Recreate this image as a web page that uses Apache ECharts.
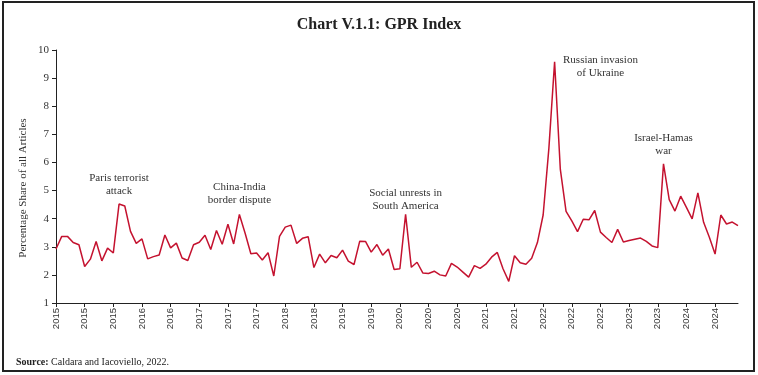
<!DOCTYPE html>
<html>
<head>
<meta charset="utf-8">
<script src="https://cdn.jsdelivr.net/npm/echarts@6/dist/echarts.min.js"></script>
<style>
  html, body { margin: 0; padding: 0; background: #fff; }
  #chart { width: 758px; height: 375px; }
</style>
</head>
<body>
<div id="chart"></div>
<script>
// monthly, Jan 2015 - Dec 2024
const startYear = 2015;
const gprValues = [
  2.92, 3.37, 3.37, 3.15, 3.07, 2.30, 2.56, 3.19, 2.50, 2.95, 2.78, 4.52,
  4.45, 3.55, 3.12, 3.28, 2.57, 2.65, 2.71, 3.42, 2.96, 3.13, 2.60, 2.51,
  3.07, 3.16, 3.41, 2.90, 3.58, 3.09, 3.80, 3.10, 4.15, 3.48, 2.75, 2.78,
  2.53, 2.79, 1.96, 3.37, 3.70, 3.77, 3.12, 3.30, 3.36, 2.26, 2.74, 2.43,
  2.69, 2.61, 2.88, 2.49, 2.37, 3.20, 3.19, 2.81, 3.08, 2.70, 2.92, 2.19,
  2.22, 4.15, 2.27, 2.45, 2.07, 2.05, 2.13, 2.00, 1.96, 2.41, 2.28, 2.10,
  1.92, 2.33, 2.23, 2.38, 2.63, 2.80, 2.22, 1.77, 2.68, 2.43, 2.38, 2.59,
  3.15, 4.13, 6.50, 9.58, 5.75, 4.26, 3.92, 3.54, 3.98, 3.96, 4.29, 3.52,
  3.33, 3.15, 3.62, 3.17, 3.22, 3.27, 3.31, 3.19, 3.03, 2.97, 5.95, 4.68,
  4.27, 4.80, 4.40, 3.99, 4.92, 3.87, 3.34, 2.74, 4.13, 3.81, 3.88, 3.75
];
// x-axis label for each month is its year
const months = gprValues.map((v, i) => String(startYear + Math.floor(i / 12)));

// event notes: [text, month index, value]
const notes = [
  ['Paris terrorist\nattack', 11, 5.2],
  ['China-India\nborder dispute', 32, 4.9],
  ['Social unrests in\nSouth America', 61, 4.68],
  ['Russian invasion\nof Ukraine', 95, 9.4],
  ['Israel-Hamas\nwar', 106, 6.62]
];

const serif = '"Liberation Serif", "DejaVu Serif", serif';
const chart = echarts.init(document.getElementById('chart'));

const option = {
  animation: false,
  grid: { left: 56, right: 20, top: 50, bottom: 72 },
  title: {
    text: 'Chart V.1.1: GPR Index',
    left: 'center',
    top: 12,
    textStyle: { fontFamily: serif, fontSize: 16, fontWeight: 'bold', color: '#222' }
  },
  xAxis: {
    type: 'category',
    data: months,
    boundaryGap: false,
    axisLine: { lineStyle: { color: '#222', width: 1 } },
    axisTick: { interval: 4, length: 4, lineStyle: { color: '#222' } },
    axisLabel: {
      interval: 4,
      rotate: 90,
      margin: 5,
      fontFamily: '"Liberation Sans", "DejaVu Sans", sans-serif',
      fontSize: 9.5,
      color: '#333'
    },
    splitLine: { show: false }
  },
  yAxis: {
    type: 'value',
    min: 1,
    max: 10,
    interval: 1,
    axisLine: { show: true, lineStyle: { color: '#222', width: 1 } },
    axisTick: { show: true, length: 4, lineStyle: { color: '#222' } },
    axisLabel: { fontFamily: serif, fontSize: 11, color: '#333', margin: 7 },
    splitLine: { show: false }
  },
  series: [{
    type: 'line',
    data: gprValues,
    showSymbol: false,
    symbol: 'none',
    lineStyle: { color: '#c4122f', width: 1.5 },
    markPoint: {
      symbol: 'circle',
      symbolSize: 0,
      silent: true,
      label: {
        show: true,
        position: 'inside',
        fontFamily: serif,
        fontSize: 11,
        lineHeight: 13,
        color: '#333',
        align: 'center',
        formatter: p => p.name
      },
      data: notes.map(n => ({ name: n[0], coord: [n[1], n[2]] }))
    }
  }],
  graphic: [
    {
      type: 'rect',
      shape: { x: 3, y: 2, width: 751, height: 369 },
      style: { fill: 'none', stroke: '#222', lineWidth: 2 },
      silent: true
    },
    {
      type: 'text',
      x: 23,
      y: 188,
      rotation: Math.PI / 2,
      style: {
        text: 'Percentage Share of all Articles',
        fontFamily: serif,
        fontSize: 11,
        fill: '#333',
        align: 'center',
        verticalAlign: 'middle'
      }
    },
    {
      type: 'text',
      x: 16,
      y: 357,
      style: {
        text: '{b|Source:} Caldara and Iacoviello, 2022.',
        rich: {
          b: { fontFamily: serif, fontSize: 10, fontWeight: 'bold', fill: '#222' }
        },
        fontFamily: serif,
        fontSize: 10,
        fill: '#222'
      }
    }
  ]
};
chart.setOption(option);
</script>
</body>
</html>
